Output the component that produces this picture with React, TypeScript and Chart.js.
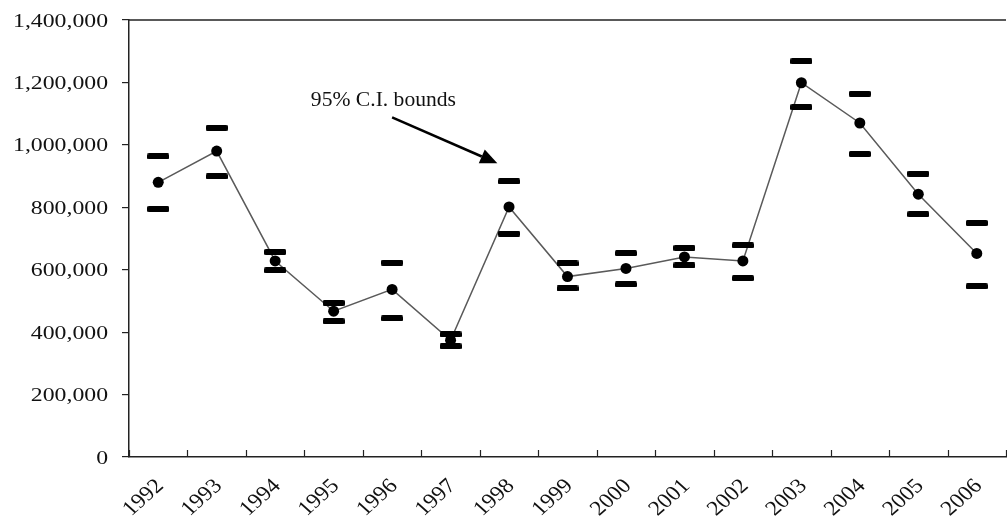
import React, { useEffect, useRef } from "react";
import { Chart, registerables } from "chart.js";

Chart.register(...registerables);

const years = ["1992", "1993", "1994", "1995", "1996", "1997", "1998", "1999", "2000", "2001", "2002", "2003", "2004", "2005", "2006"];
const estimates = [880000, 980000, 628000, 467000, 537000, 374000, 801000, 578000, 604000, 641000, 628000, 1199000, 1070000, 842000, 652000];
const upperBounds = [963000, 1055000, 657000, 494000, 623000, 393000, 883000, 620000, 653000, 670000, 678000, 1268000, 1164000, 908000, 750000];
const lowerBounds = [795000, 899000, 598000, 435000, 444000, 355000, 716000, 540000, 553000, 614000, 573000, 1121000, 971000, 778000, 547000];
const yMin = 0;
const yMax = 1400000;
const yStep = 200000;

const annotationText = "95% C.I. bounds";
const annotationTextAt = { x: 2.61, y: 1126000 };
const arrowFrom = { x: 4.0, y: 1088000 };
const arrowTo = { x: 5.8, y: 941000 };

const FONT = '"Liberation Serif", "Times New Roman", serif';

const decorPlugin = {
  id: "decor",
  afterDraw(chart: any) {
    const ctx = chart.ctx as CanvasRenderingContext2D;
    const area = chart.chartArea;
    const xs = chart.scales.x;
    const ys = chart.scales.y;
    ctx.save();
    // top border
    ctx.strokeStyle = "#222";
    ctx.lineWidth = 1.5;
    ctx.beginPath();
    ctx.moveTo(area.left, area.top);
    ctx.lineTo(area.right, area.top);
    ctx.stroke();
    // inward x ticks at category boundaries
    ctx.lineWidth = 1.2;
    for (let i = 0; i <= years.length; i++) {
      const x = Math.round(xs.getPixelForValue(i - 0.5)) + 0.5;
      ctx.beginPath();
      ctx.moveTo(x, area.bottom);
      ctx.lineTo(x, area.bottom - 7);
      ctx.stroke();
    }
    // y labels
    ctx.fillStyle = "#111";
    ctx.font = `19px ${FONT}`;
    ctx.textAlign = "right";
    ctx.textBaseline = "alphabetic";
    ys.ticks.forEach((t: any) => {
      const y = ys.getPixelForValue(t.value);
      ctx.save();
      ctx.translate(108, y + 6.5);
      ctx.scale(1.25, 1);
      ctx.fillText(Number(t.value).toLocaleString("en-US"), 0, 0);
      ctx.restore();
    });
    // x labels rotated
    ctx.font = `21px ${FONT}`;
    ctx.textBaseline = "middle";
    years.forEach((label, i) => {
      const x = xs.getPixelForValue(i);
      ctx.save();
      ctx.translate(x + 2, area.bottom + 26);
      ctx.scale(1.12, 1);
      ctx.rotate(-Math.PI / 4);
      ctx.fillText(label, 0, 0);
      ctx.restore();
    });
    // annotation text
    ctx.textAlign = "left";
    ctx.textBaseline = "alphabetic";
    ctx.font = `20px ${FONT}`;
    ctx.save();
    ctx.translate(xs.getPixelForValue(annotationTextAt.x), ys.getPixelForValue(annotationTextAt.y));
    ctx.scale(1.08, 1);
    ctx.fillText(annotationText, 0, 0);
    ctx.restore();
    // arrow
    const x1 = xs.getPixelForValue(arrowFrom.x);
    const y1 = ys.getPixelForValue(arrowFrom.y);
    const x2 = xs.getPixelForValue(arrowTo.x);
    const y2 = ys.getPixelForValue(arrowTo.y);
    const ang = Math.atan2(y2 - y1, x2 - x1);
    const headLen = 17;
    const headW = 7.5;
    const bx = x2 - headLen * Math.cos(ang);
    const by = y2 - headLen * Math.sin(ang);
    ctx.strokeStyle = "#000";
    ctx.fillStyle = "#000";
    ctx.lineWidth = 2.5;
    ctx.beginPath();
    ctx.moveTo(x1, y1);
    ctx.lineTo(bx, by);
    ctx.stroke();
    ctx.beginPath();
    ctx.moveTo(x2, y2);
    ctx.lineTo(bx + headW * Math.sin(ang), by - headW * Math.cos(ang));
    ctx.lineTo(bx - headW * Math.sin(ang), by + headW * Math.cos(ang));
    ctx.closePath();
    ctx.fill();
    ctx.restore();
  },
};

function makeBarMarker(): HTMLCanvasElement {
  const c = document.createElement("canvas");
  c.width = 22;
  c.height = 6;
  const g = c.getContext("2d")!;
  g.fillStyle = "#000";
  g.beginPath();
  (g as any).roundRect ? (g as any).roundRect(0, 0, 22, 6, 1.5) : g.rect(0, 0, 22, 6);
  g.fill();
  return c;
}

export default function App() {
  const ref = useRef<HTMLCanvasElement | null>(null);
  useEffect(() => {
    if (!ref.current) return;
    const marker = makeBarMarker();
    const chart = new Chart(ref.current, {
      type: "line",
      data: {
        labels: years,
        datasets: [
          {
            label: "Upper bound",
            data: upperBounds,
            showLine: false,
            pointStyle: marker as any,
            pointRadius: 11,
            borderColor: "#000",
            backgroundColor: "#000",
          },
          {
            label: "Lower bound",
            data: lowerBounds,
            showLine: false,
            pointStyle: marker as any,
            pointRadius: 11,
            borderColor: "#000",
            backgroundColor: "#000",
          },
          {
            label: "Estimate",
            data: estimates,
            borderColor: "#5a5a5a",
            borderWidth: 1.5,
            pointRadius: 5.5,
            pointBackgroundColor: "#000",
            pointBorderColor: "#000",
            pointBorderWidth: 0,
            tension: 0,
          },
        ],
      },
      options: {
        responsive: false,
        animation: false,
        devicePixelRatio: 1,
        layout: { padding: { left: 0, top: 20, right: 0, bottom: 0 } },
        plugins: { legend: { display: false }, tooltip: { enabled: false } },
        scales: {
          x: {
            type: "category",
            offset: true,
            grid: { display: false },
            border: { display: true, color: "#222", width: 1.5 },
            ticks: { display: false },
            afterFit: (scale: any) => {
              scale.height = 64;
            },
          },
          y: {
            min: yMin,
            max: yMax,
            ticks: { display: false, stepSize: yStep },
            grid: { drawOnChartArea: false, drawTicks: true, tickLength: 7, color: "#222", lineWidth: 1.2 },
            border: { display: true, color: "#222", width: 1.5 },
            afterFit: (scale: any) => {
              scale.width = 129;
            },
          },
        },
      },
      plugins: [decorPlugin],
    });
    return () => chart.destroy();
  }, []);
  return (
    <div style={{ position: "absolute", left: 0, top: 0, width: 1007, height: 521, overflow: "hidden", background: "#fff" }}>
      <canvas ref={ref} width={1018} height={521} style={{ display: "block" }} />
    </div>
  );
}
